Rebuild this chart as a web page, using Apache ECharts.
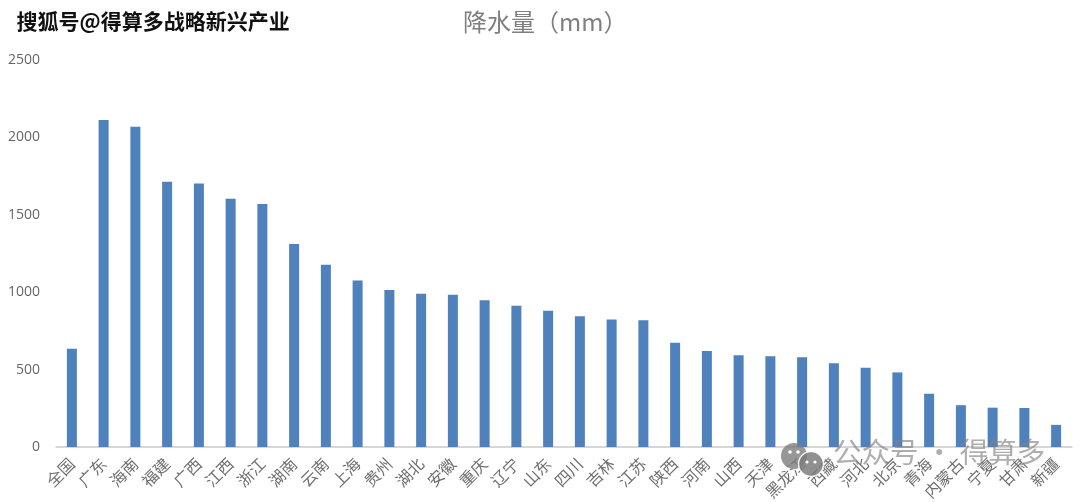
<!DOCTYPE html>
<html><head><meta charset="utf-8">
<script src="https://cdn.jsdelivr.net/npm/echarts@6/dist/echarts.min.js"></script>
<style>html,body{margin:0;padding:0;background:#fff}#c{width:1080px;height:502px}</style></head>
<body><div id="c"></div>
<script>
const categories=['全国','广东','海南','福建','广西','江西','浙江','湖南','云南','上海','贵州','湖北','安徽','重庆','辽宁','山东','四川','吉林','江苏','陕西','河南','山西','天津','黑龙江','西藏','河北','北京','青海','内蒙古','宁夏','甘肃','新疆'];
const rainfall=[635,2112,2068,1714,1702,1604,1570,1312,1178,1075,1015,990,983,948,912,880,845,823,818,673,620,592,587,580,541,512,482,344,270,254,252,143];
const yTicks=[0,500,1000,1500,2000,2500];
const titleText='降水量（mm）';
const sourceText='搜狐号@得算多战略新兴产业';
const markText='公众号 · 得算多';
const cjk='"Noto Sans CJK SC","Noto Sans",sans-serif';
const chart=echarts.init(document.getElementById('c'),null,{renderer:'canvas'});
chart.setOption({
 animation:false,
 title:{text:titleText,left:458,top:5,textStyle:{fontFamily:cjk,fontSize:24,fontWeight:'normal',color:'#7f7f7f'}},
 grid:{left:56,right:8,top:60,bottom:55,containLabel:false,outerBoundsMode:'none'},
 xAxis:{type:'category',data:categories,axisTick:{show:false},
  axisLine:{lineStyle:{color:'#c9c9c9',width:1.5}},
  axisLabel:{interval:0,rotate:45,margin:14,fontFamily:cjk,fontSize:16,color:'#6f6f6f'}},
 yAxis:{type:'value',min:yTicks[0],max:yTicks[yTicks.length-1],interval:yTicks[1]-yTicks[0],
  axisLine:{show:false},axisTick:{show:false},splitLine:{show:false},
  axisLabel:{margin:16,formatter:v=>String(v),fontFamily:'"Open Sans","Noto Sans",sans-serif',fontSize:14,color:'#666'}},
 series:[{type:'bar',data:rainfall,barWidth:10,itemStyle:{color:'#4f81bd'}}],
 graphic:[
  {type:'text',left:16,top:10,z:20,style:{text:sourceText,font:'bold 21px '+cjk,fill:'#111',stroke:'#fff',lineWidth:1}},
  {type:'circle',z:20,shape:{cx:794,cy:456,r:13},style:{fill:'rgba(125,125,125,0.8)'}},
  {type:'circle',z:20,shape:{cx:811,cy:464,r:12.5},style:{fill:'rgba(125,125,125,0.85)',stroke:'rgba(255,255,255,0.85)',lineWidth:1.5}},
  {type:'circle',z:21,shape:{cx:790,cy:452,r:1.8},style:{fill:'#fff'}},
  {type:'circle',z:21,shape:{cx:798,cy:452,r:1.8},style:{fill:'#fff'}},
  {type:'circle',z:21,shape:{cx:807,cy:462,r:1.6},style:{fill:'#fff'}},
  {type:'circle',z:21,shape:{cx:815,cy:462,r:1.6},style:{fill:'#fff'}},
  {type:'text',left:833,top:438,z:20,style:{text:markText,font:'28.5px '+cjk,fill:'rgba(130,130,130,0.65)'}}
 ]
});
</script></body></html>
